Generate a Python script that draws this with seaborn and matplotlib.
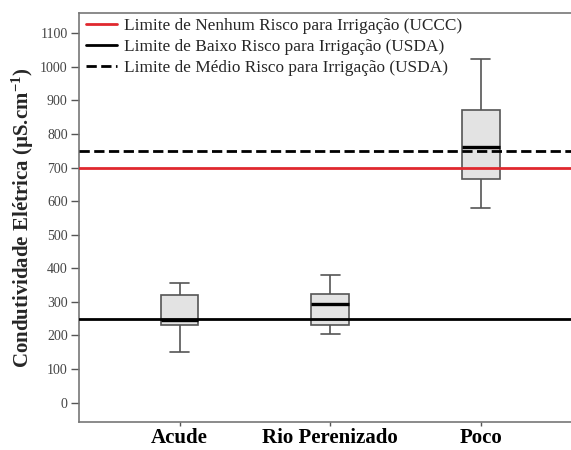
import numpy as np
import pandas as pd
import matplotlib
matplotlib.use("Agg")
import matplotlib.pyplot as plt
import seaborn as sns
from matplotlib.lines import Line2D

# Summary values (min, Q1, median, Q3, max)
categories = ["Acude", "Rio Perenizado", "Poco"]
acude = [152, 230, 245, 321, 355]
rio = [203, 230, 293, 323, 380]
poco = [579, 666, 760, 870, 1022]

limit_values = [700, 250, 750]
limit_labels = ["Limite de Nenhum Risco para Irrigação (UCCC)",
                "Limite de Baixo Risco para Irrigação (USDA)",
                "Limite de Médio Risco para Irrigação (USDA)"]
yticks = list(range(0, 1101, 100))

df = pd.DataFrame({
    "local": [categories[0]] * 5 + [categories[1]] * 5 + [categories[2]] * 5,
    "ce": acude + rio + poco,
})

sns.set_style("white")
plt.rcParams["font.family"] = ["Liberation Serif", "DejaVu Serif"]
plt.rcParams["mathtext.fontset"] = "custom"
plt.rcParams["mathtext.rm"] = "Liberation Serif"
plt.rcParams["mathtext.bf"] = "Liberation Serif:bold"
plt.rcParams["mathtext.it"] = "Liberation Serif:italic"

fig = plt.figure(figsize=(5.71, 4.5), dpi=100)
ax = fig.add_axes([0.138, 0.062, 0.862, 0.909])

edge = "#555555"
sns.boxplot(data=df, x="local", y="ce", order=categories, whis=np.inf,
            width=0.25, color="#e3e3e3", linecolor=edge, linewidth=1.2,
            medianprops=dict(color="black", linewidth=2.4),
            capprops=dict(color=edge, linewidth=1.2),
            whiskerprops=dict(color=edge, linewidth=1.2),
            boxprops=dict(facecolor="#e3e3e3", edgecolor=edge),
            ax=ax, zorder=2)

colors = ["#e0282e", "black", "black"]
styles = ["-", "-", "--"]
for v, c, s in zip(limit_values, colors, styles):
    ax.axhline(v, color=c, linestyle=s, linewidth=2, zorder=3)

ax.set_xlim(-0.67, 2.6)
ax.set_ylim(-58, 1160)
ax.set_yticks(yticks)
ax.set_yticklabels([str(t) for t in yticks], fontsize=10, color="#444444")
ax.set_xticks(range(len(categories)))
ax.set_xticklabels(categories, fontsize=15, fontweight="bold", color="black")
ax.set_xlabel("")
ax.set_ylabel("Condutividade Elétrica (µS.cm$^{\\mathbf{-1}}$)", fontsize=15,
              fontweight="bold", labelpad=3)
ax.tick_params(axis="y", direction="out", length=6, width=1, colors="#555555",
               left=True, pad=2)
ax.tick_params(axis="x", direction="out", length=3, width=1, colors="#555555",
               bottom=True, pad=1)
for lab in ax.get_xticklabels():
    lab.set_color("black")
for lab in ax.get_yticklabels():
    lab.set_color("#444444")
for sp in ["left", "bottom", "top"]:
    ax.spines[sp].set_color("#777777")
    ax.spines[sp].set_linewidth(1.2)
ax.spines["right"].set_visible(False)

handles = [Line2D([0], [0], color=c, linestyle=s, linewidth=2)
           for c, s in zip(colors, styles)]
ax.legend(handles, limit_labels, loc="upper left", frameon=False, fontsize=12.4,
          handlelength=1.8, handletextpad=0.4, borderaxespad=0.0,
          labelspacing=0.3, bbox_to_anchor=(0.0, 1.005))

fig.savefig("out.png", dpi=100)
